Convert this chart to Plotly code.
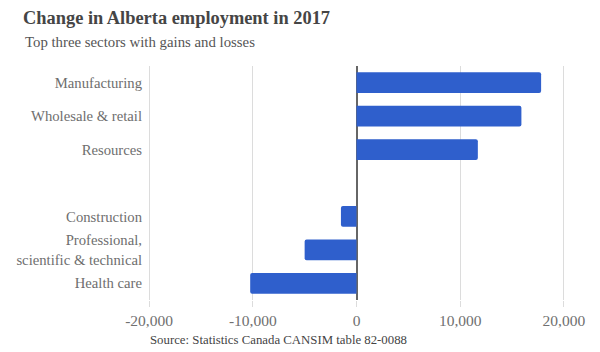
import plotly.graph_objects as go

categories = ["Manufacturing", "Wholesale & retail", "Resources", " ",
              "Construction", "Professional,<br>scientific & technical", "Health care"]
values = [17800, 15900, 11700, None, -1500, -5000, -10250]
tick_vals = [-20000, -10000, 0, 10000, 20000]
tick_labels = ["-20,000", "-10,000", "0", "10,000", "20,000"]

font = "Liberation Serif"
fig = go.Figure(go.Bar(
    x=values, y=categories, orientation="h",
    marker=dict(color="#2f5fcc", line=dict(width=0)),
    width=0.62,
))

fig.update_layout(
    width=600, height=352,
    margin=dict(l=147, r=34, t=66, b=52),
    paper_bgcolor="white", plot_bgcolor="white",
    showlegend=False,
    barcornerradius=2,
    font=dict(family=font, color="#6e6e6e", size=14.7),
    title=dict(text="<b>Change in Alberta employment in 2017</b>",
               x=23/600, xanchor="left", xref="container",
               y=1-18/352, yanchor="middle", yref="container",
               font=dict(family=font, size=18.4, color="#454545")),
    xaxis=dict(range=[-20200, 20200], tickvals=tick_vals, ticktext=tick_labels,
               showgrid=True, gridcolor="#dcdcdc", gridwidth=1,
               zeroline=True, zerolinecolor="#666666", zerolinewidth=1.5,
               ticks="outside", ticklen=6, tickcolor="#dcdcdc",
               tickfont=dict(size=15.5, color="#707070"), fixedrange=True),
    yaxis=dict(type="category", autorange="reversed", showgrid=False,
               ticks="", ticklabelstandoff=4,
               tickfont=dict(size=14.7, color="#6e6e6e")),
    annotations=[
        dict(text="Top three sectors with gains and losses", xref="paper", yref="paper",
             x=(23-147)/419, y=1+(66-42)/234, xanchor="left", yanchor="middle",
             showarrow=False, font=dict(family=font, size=14.8, color="#555555")),
        dict(text="Source: Statistics Canada CANSIM table 82-0088", xref="paper", yref="paper",
             x=(148-147)/419, y=-(340-300)/234, xanchor="left", yanchor="middle",
             showarrow=False, font=dict(family=font, size=12.8, color="#444444")),
    ],
)

fig.write_html("out.html")
